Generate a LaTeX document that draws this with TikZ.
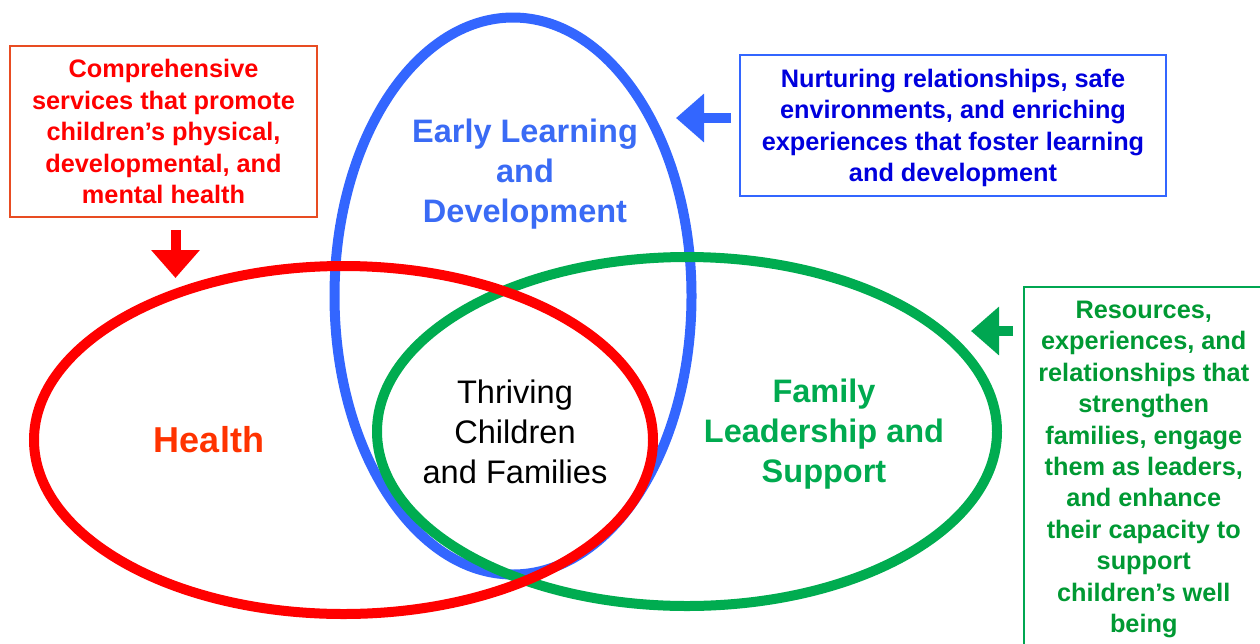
\documentclass[tikz,border=0pt]{standalone}
\usepackage{fontspec}
\setmainfont{Liberation Sans}
\usetikzlibrary{shapes.geometric,arrows.meta}
\definecolor{healthred}{HTML}{FF0000}
\definecolor{healthtext}{HTML}{FF3300}
\definecolor{healthline}{HTML}{E84C22}
\definecolor{elblue}{HTML}{3366FF}
\definecolor{eltext}{HTML}{3A6BF5}
\definecolor{navytext}{HTML}{0000DD}
\definecolor{famgreen}{HTML}{00AC50}
\definecolor{famtext}{HTML}{00AA4F}
\definecolor{famboxtext}{HTML}{009933}
\definecolor{famline}{HTML}{00A651}
\begin{document}
\begin{tikzpicture}[x=1pt, y=-1pt,
    ring/.style={ellipse, draw, inner sep=0pt, line width=10pt},
    infobox/.style={draw, line width=1.5pt, align=center, inner sep=0pt, text depth=0pt,
      font=\bfseries\fontsize{25.3}{31.4}\selectfont},
    biglabel/.style={align=center, font=\bfseries\fontsize{32.5}{40}\selectfont},
    blockarrow/.style={line width=10pt, -{Triangle[length=28pt, width=47pt]}}]
  \useasboundingbox (0,0) rectangle (1260,643);
  \node[ring, draw=elblue, minimum width=357pt, minimum height=557pt] (learning) at (513,296) {};
  \node[ring, draw=famgreen, minimum width=620pt, minimum height=349pt] (family) at (687,431.5) {};
  \node[ring, draw=healthred, minimum width=619pt, minimum height=348pt] (health) at (343.5,440) {};
  \node[biglabel, text=eltext] (learninglabel) at (525,174) {Early Learning\\and\\Development};
  \node[biglabel, text=famtext] (familylabel) at (824,434) {Family\\Leadership and\\Support};
  \node[font=\bfseries\fontsize{36}{40}\selectfont, text=healthtext] (healthlabel) at (209,440) {Health};
  \node[align=center, font=\fontsize{32.6}{40}\selectfont] (thriving) at (515,432) {Thriving\\Children\\and Families};
  \node[infobox, draw=healthline, text=healthred, minimum width=307pt, minimum height=171pt] (healthbox) at (163.5,131.5)
    {Comprehensive\\services that promote\\children’s physical,\\developmental, and\\mental health};
  \node[infobox, draw=elblue, text=navytext, minimum width=426pt, minimum height=141pt] (learningbox) at (953,125.5)
    {Nurturing relationships, safe\\environments, and enriching\\experiences that foster learning\\and development};
  \node[infobox, draw=famline, text=famboxtext, minimum width=240pt, minimum height=360pt, anchor=north west] (familybox) at (1023,286)
    {Resources,\\experiences, and\\relationships that\\strengthen\\families, engage\\them as leaders,\\and enhance\\their capacity to\\support\\children’s well\\being};
  \coordinate (healthtail) at (175.5,230);
  \coordinate (healthtip) at (175.5,278);
  \coordinate (learningtail) at (731,118);
  \coordinate (learningtip) at (676,118);
  \coordinate (familytail) at (1013,331);
  \coordinate (familytip) at (971,331);
  \draw[blockarrow, healthred] (healthtail) -- (healthtip);
  \draw[blockarrow, elblue] (learningtail) -- (learningtip);
  \draw[blockarrow, famline] (familytail) -- (familytip);
\end{tikzpicture}
\end{document}
